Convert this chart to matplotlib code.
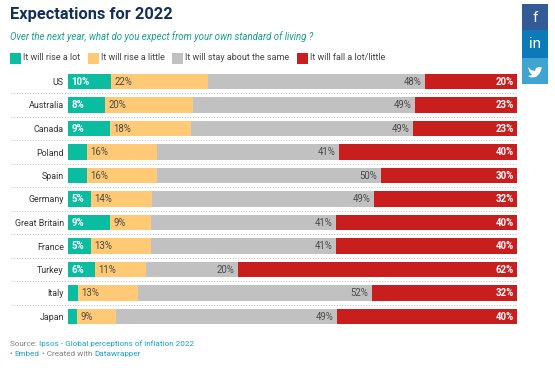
import matplotlib
matplotlib.use("Agg")
import matplotlib.pyplot as plt
from matplotlib.patches import Rectangle, Polygon
from matplotlib.transforms import blended_transform_factory

plt.rcParams['font.family'] = ['Roboto', 'DejaVu Sans']

W, H = 555, 383
countries = ["US", "Australia", "Canada", "Poland", "Spain", "Germany",
             "Great Britain", "France", "Turkey", "Italy", "Japan"]
series_names = ["It will rise a lot", "It will rise a little",
                "It will stay about the same", "It will fall a lot/little"]
colors = ["#0abda0", "#ffc975", "#c1c1c1", "#c81e1e"]
rise_lot = [9.6, 8.2, 9.4, 4.2, 4.2, 5.1, 9.4, 5.1, 6.0, 2.2, 2.0]
rise_little = [21.6, 19.6, 18.0, 15.6, 15.6, 13.6, 9.1, 13.4, 11.4, 13.4, 8.7]
stay_same = [48.3, 49.4, 49.4, 40.5, 49.9, 49.4, 41.2, 41.2, 20.5, 52.1, 49.2]
fall = [20.5, 22.8, 23.2, 39.7, 30.3, 31.9, 40.3, 40.3, 62.1, 32.3, 40.1]
lab_lot = ["10%", "8%", "9%", "", "", "5%", "9%", "5%", "6%", "", ""]
lab_little = ["22%", "20%", "18%", "16%", "16%", "14%", "9%", "13%", "11%", "13%", "9%"]
lab_same = ["48%", "49%", "49%", "41%", "50%", "49%", "41%", "41%", "20%", "52%", "49%"]
lab_fall = ["20%", "23%", "23%", "40%", "30%", "32%", "40%", "40%", "62%", "32%", "40%"]
title = "Expectations for 2022"
subtitle = "Over the next year, what do you expect from your own standard of living ?"

fig = plt.figure(figsize=(W / 100, H / 100), dpi=100)
bg = fig.add_axes([0, 0, 1, 1])
bg.set_xlim(0, W)
bg.set_ylim(H, 0)
bg.axis("off")

top, bottom = 69.75, 328.25
ax = fig.add_axes([68 / W, 1 - bottom / H, 449 / W, (bottom - top) / H])
ax.patch.set_alpha(0)
for s in ax.spines.values():
    s.set_visible(False)
ax.set_xlim(0, 100)
ax.set_ylim(10.5, -0.5)
ax.set_xticks([])
ax.set_yticks(range(len(countries)))
ax.set_yticklabels(countries, fontsize=6.4, color="#333333")
ax.tick_params(axis="y", length=0, pad=3)

sep = blended_transform_factory(ax.transAxes, ax.transData)
for i in range(len(countries) - 1):
    ax.plot([(11 - 68) / 449, 1], [i + 0.5, i + 0.5], transform=sep, clip_on=False,
            color="#c8c8c8", lw=0.8, ls=(0, (1, 1.4)))

left = [0.0] * len(countries)
all_vals = [rise_lot, rise_little, stay_same, fall]
all_labs = [lab_lot, lab_little, lab_same, lab_fall]
for k, (vals, labs) in enumerate(zip(all_vals, all_labs)):
    ax.barh(range(len(countries)), vals, left=left, height=0.64, color=colors[k], lw=0)
    for i, (v, lab) in enumerate(zip(vals, labs)):
        if lab:
            if k == 0 or k == 1:
                x, off, ha = left[i], 3.5, "left"
            else:
                x, off, ha = left[i] + v, -3.5, "right"
            white = k in (0, 3)
            ax.annotate(lab, (x, i), xytext=(off * 0.72, -0.3), textcoords="offset points",
                        ha=ha, va="center", fontsize=6.9,
                        color="white" if white else "#4a4a4a",
                        fontweight="bold" if white else "normal")
    left = [a + b for a, b in zip(left, vals)]

bg.text(10, 14.5, title, fontsize=11.8, fontweight="bold", color="#12305c", va="center", ha="left")
bg.text(10, 37, subtitle, fontsize=6.9, style="italic", color="#17a08c", va="center", ha="left")

lx = [10, 88, 172, 297]
for x0, name, c in zip(lx, series_names, colors):
    bg.add_patch(Rectangle((x0, 53), 11, 11, color=c, lw=0))
    bg.text(x0 + 13, 58, name, fontsize=6.5, color="#444444", va="center", ha="left")

link = "#18a1cd"
grey = "#808080"
fs = 5.9
t = bg.text(10, 344, "Source: ", fontsize=fs, color=grey, va="center")
bg.annotate("Ipsos - Global perceptions of inflation 2022", xycoords=t, xy=(1, 0.5),
            va="center", fontsize=fs, color=link)
t = bg.text(10, 354, "• ", fontsize=fs, color=grey, va="center")
t = bg.annotate("Embed", xycoords=t, xy=(1, 0.5), va="center", fontsize=fs, color=link)
t = bg.annotate(" • Created with ", xycoords=t, xy=(1, 0.5), va="center", fontsize=fs, color=grey)
bg.annotate("Datawrapper", xycoords=t, xy=(1, 0.5), va="center", fontsize=fs, color=link)

bg.add_patch(Rectangle((522, 4), 26, 26, color="#325a94", lw=0))
bg.add_patch(Rectangle((522, 30), 26, 28, color="#0a7ab8", lw=0))
bg.add_patch(Rectangle((522, 58), 26, 26, color="#40a4d2", lw=0))
bg.text(535, 17.5, "f", fontsize=11, color="white", ha="center", va="center")
bg.text(535, 44, "in", fontsize=11, color="white", ha="center", va="center")
bird = [(528, 67), (531, 70), (535, 71), (536, 68), (539, 67), (542, 67.5), (541, 70),
        (540, 73), (536, 77), (531, 77.5), (528, 76), (532, 75), (529.5, 72)]
bg.add_patch(Polygon(bird, closed=True, color="white", lw=0))

fig.savefig("out.png", dpi=100)
